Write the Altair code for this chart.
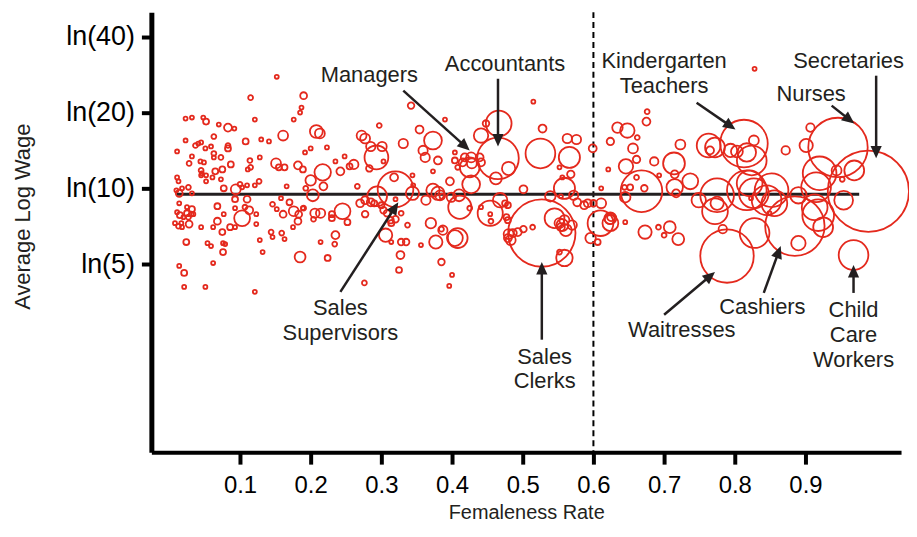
import math
import altair as alt
import pandas as pd

# ---------------- data: occupations (femaleness rate, average log wage, employment in thousands)
fem_a = [0.152,0.190,0.115,0.187,0.185,0.023,0.032,0.048,0.052,0.121,
         0.176,0.070,0.083,0.092,0.161,0.023,0.063,0.108,0.130,0.141,
         0.037,0.041,0.045,0.051,0.059,0.083,0.083,0.011,0.063,0.063,
         0.032,0.073,0.128,0.192,0.114,0.044,0.049,0.028,0.087,0.151,
         0.155,0.163,0.182,0.189,0.045,0.046,0.045,0.052,0.065,0.075,
         0.061,0.111,0.115,0.011,0.013,0.052,0.073,0.127,0.121,0.110,
         0.100,0.103,0.077,0.094,0.027,0.018,0.010,0.014,0.032,0.166,
         0.193,0.093,0.110,0.158,0.014,0.068,0.093,0.107,0.113,0.146,
         0.152,0.170,0.176,0.189,0.161,0.025,0.032,0.025,0.031,0.034,
         0.011,0.015,0.020,0.027,0.077,0.123,0.103,0.183,0.182,0.068,
         0.008,0.013,0.017,0.018,0.028,0.045,0.062,0.086,0.093,0.123,
         0.175,0.075,0.144,0.146,0.159,0.163,0.024,0.054,0.059,0.076,
         0.079,0.128,0.076,0.132,0.185,0.062,0.014,0.021,0.021,0.051,
         0.121]
wage_a = [3.324,3.151,3.133,3.042,2.996,2.941,2.951,2.951,2.914,2.932,
          2.932,2.887,2.859,2.850,2.786,2.741,2.777,2.732,2.750,2.732,
          2.695,2.713,2.723,2.668,2.686,2.695,2.668,2.640,2.622,2.586,
          2.595,2.586,2.586,2.631,2.558,2.549,2.540,2.531,2.522,2.531,
          2.495,2.495,2.513,2.476,2.467,2.440,2.422,2.422,2.458,2.476,
          2.403,2.476,2.495,2.403,2.367,2.367,2.385,2.367,2.330,2.330,
          2.339,2.312,2.303,2.294,2.312,2.303,2.285,2.257,2.257,2.321,
          2.303,2.203,2.203,2.212,2.166,2.139,2.121,2.130,2.102,2.157,
          2.112,2.175,2.093,2.121,2.066,2.130,2.112,2.075,2.066,2.066,
          2.084,2.057,2.039,2.039,2.066,2.066,2.029,2.066,2.002,2.002,
          1.984,1.956,1.984,1.947,1.975,1.947,1.947,1.947,1.947,1.975,
          1.947,1.902,1.902,1.856,1.893,1.838,1.811,1.801,1.774,1.801,
          1.792,1.829,1.719,1.719,1.674,1.619,1.592,1.528,1.400,1.400,
          1.355]
emp_a = [4,12,6,4,4,4,4,4,9,4,
         4,4,16,4,25,4,6,9,4,4,
         6,4,4,4,4,6,9,4,6,4,
         4,6,4,4,6,4,4,6,9,25,
         9,9,16,9,6,4,4,4,9,9,
         4,4,6,4,4,4,4,6,4,4,
         6,4,9,25,6,4,4,12,4,4,
         6,9,12,4,4,9,4,6,16,6,
         4,9,25,4,12,4,9,9,6,4,
         4,9,4,6,4,4,64,12,12,12,
         4,6,4,4,12,4,4,9,4,4,
         4,9,6,4,6,4,9,4,4,4,
         4,4,9,4,30,4,4,9,4,4,
         4]

fem_b = [0.342,0.390,0.208,0.213,0.272,0.277,0.297,0.354,0.373,0.331,
         0.285,0.301,0.293,0.200,0.223,0.235,0.248,0.255,0.261,0.242,
         0.283,0.303,0.359,0.362,0.380,0.373,0.404,0.408,0.217,0.200,
         0.218,0.266,0.318,0.344,0.320,0.294,0.344,0.345,0.373,0.380,
         0.383,0.363,0.399,0.203,0.190,0.206,0.214,0.245,0.270,0.277,
         0.285,0.290,0.300,0.277,0.303,0.308,0.313,0.320,0.314,0.320,
         0.328,0.230,0.230,0.204,0.252,0.337,0.370,0.387,0.377,0.404,
         0.306,0.235,0.234,0.214,0.328,0.335,0.356,0.224,0.327,0.385,
         0.325,0.400,0.276,0.396,0.314]
wage_b = [3.060,2.932,2.823,2.805,2.786,2.759,2.878,2.841,2.741,2.713,
          2.686,2.686,2.586,2.668,2.677,2.549,2.595,2.504,2.522,2.458,
          2.485,2.549,2.650,2.586,2.558,2.458,2.558,2.495,2.449,2.376,
          2.321,2.321,2.403,2.422,2.294,2.230,2.257,2.330,2.285,2.257,
          2.239,2.194,2.221,2.239,2.121,2.075,2.075,2.093,2.166,2.194,
          2.175,2.166,2.148,2.066,2.102,2.075,2.011,2.020,1.984,2.203,
          2.075,2.066,2.029,2.020,1.993,1.966,1.984,1.920,1.811,1.847,
          1.874,1.874,1.792,1.811,1.811,1.811,1.783,1.665,1.692,1.628,
          1.555,1.510,1.437,1.409,1.811]
emp_b = [11,4,42,25,25,25,6,16,81,22,
         22,22,144,4,4,4,4,9,22,16,
         11,4,22,22,16,4,9,6,69,28,
         16,6,16,4,324,100,45,4,45,45,
         25,22,22,36,6,22,22,64,16,16,
         16,9,9,11,11,11,11,11,9,4,
         6,9,9,6,9,6,28,22,45,64,
         45,16,6,4,11,11,4,9,16,11,
         9,4,6,4,4]

fem_c = [0.515,0.466,0.448,0.441,0.528,0.563,0.576,0.599,0.525,0.566,
         0.465,0.427,0.418,0.415,0.428,0.439,0.441,0.404,0.425,0.480,
         0.462,0.427,0.552,0.568,0.556,0.559,0.397,0.501,0.410,0.411,
         0.386,0.468,0.475,0.479,0.539,0.554,0.572,0.577,0.587,0.592,
         0.600,0.454,0.454,0.455,0.441,0.425,0.477,0.479,0.527,0.545,
         0.552,0.556,0.559,0.554,0.570,0.561,0.480,0.486,0.493,0.501,
         0.483,0.479,0.514,0.408,0.385,0.596,0.559,0.552]
wage_c = [3.096,2.896,2.896,2.786,2.850,2.759,2.750,2.668,2.622,2.586,
          2.577,2.586,2.586,2.540,2.531,2.586,2.540,2.631,2.495,2.485,
          2.394,2.339,2.495,2.431,2.403,2.303,2.367,2.294,2.239,2.130,
          2.230,2.194,2.166,2.148,2.230,2.230,2.239,2.175,2.148,2.166,
          2.166,2.075,2.066,2.002,2.130,2.121,2.039,2.011,1.893,2.029,
          1.984,1.966,2.011,1.947,1.966,1.920,1.884,1.893,1.902,1.929,
          1.829,1.847,1.947,1.847,1.929,1.847,1.665,1.719]
emp_c = [4,169,11,53,16,22,22,16,225,114,
         441,25,16,16,25,16,16,4,100,45,
         36,81,4,14,4,114,16,16,36,137,
         7,53,9,9,28,4,22,16,16,16,
         11,161,4,6,4,6,9,9,1156,100,
         25,36,25,16,22,36,25,16,16,11,
         25,16,6,100,6,28,69,6]

fem_d = [0.676,0.675,0.634,0.648,0.662,0.624,0.656,0.723,0.661,0.646,
         0.621,0.686,0.714,0.661,0.652,0.668,0.672,0.644,0.645,0.611,
         0.611,0.693,0.715,0.715,0.717,0.737,0.749,0.610,0.624,0.624,
         0.623,0.625,0.606,0.645,0.673,0.692,0.700,0.708,0.720,0.789]
wage_d = [3.005,2.914,2.859,2.832,2.768,2.732,2.668,2.704,2.567,2.504,
          2.476,2.549,2.531,2.403,2.312,2.276,2.303,2.312,2.221,2.303,
          2.166,2.422,2.431,2.312,2.257,2.367,2.194,1.984,2.029,1.984,
          2.020,2.039,1.811,1.993,1.902,1.947,1.874,1.947,1.838,1.683]
emp_d = [6,16,28,53,6,14,25,25,14,53,
         4,18,121,6,9,441,11,6,28,4,
         25,4,16,69,16,64,53,169,36,64,
         25,16,9,4,45,6,6,36,36,729]

fem_e = [0.813,0.763,0.772,0.765,0.803,0.827,0.817,0.824,0.872,0.907,
         0.901,0.946,0.920,0.944,0.952,0.775,0.775,0.772,0.783,0.817,
         0.827,0.821,0.852,0.856,0.823,0.845,0.828,0.885,0.890,0.915,
         0.918,0.925,0.890,0.913,0.828,0.794,0.969,0.954,0.849,0.968,
         0.989]
wage_e = [2.713,2.695,2.677,2.650,2.640,2.741,2.631,2.558,2.650,2.859,
          2.695,2.677,2.440,2.467,2.385,2.239,2.166,2.093,1.929,2.285,
          2.257,2.349,2.285,2.166,2.212,2.194,1.893,1.957,2.239,2.312,
          2.057,1.947,1.801,2.130,3.397,2.650,2.467,2.194,2.075,1.692,
          2.276]
emp_e = [576,144,100,16,36,25,87,225,18,18,
         45,900,289,25,6,289,45,169,18,400,
         225,169,289,169,4,225,225,900,69,225,
         256,100,53,169,4,45,100,90,4,225,
         1681]

# overall mean log wage line and the 0.6 split
mean_fem_range = [0.010, 0.976]
mean_wage = [2.248]
split_at = [0.6]

# axes
x_ticks = [0.1, 0.2, 0.3, 0.4, 0.5, 0.6, 0.7, 0.8, 0.9]
y_tick_wages = [5, 10, 20, 40]

# annotations (y = position of the first text line)
ann_label = ["Managers", "Accountants", "Kindergarten\nTeachers", "Nurses", "Secretaries",
             "Sales\nSupervisors", "Sales\nClerks", "Waitresses", "Cashiers", "Child\nCare\nWorkers"]
ann_x = [0.283, 0.475, 0.700, 0.908, 0.961, 0.242, 0.531, 0.725, 0.839, 0.968]
ann_y = [3.343, 3.443, 3.470, 3.169, 3.470, 1.209, 0.762, 1.008, 1.218, 1.190]
arr_x0 = [0.331, 0.465, 0.746, 0.937, 1.000, 0.242, 0.527, 0.700, 0.841, 0.968]
arr_y0 = [3.197, 3.306, 3.087, 3.060, 3.334, 1.355, 0.917, 1.145, 1.345, 1.345]
arr_x1 = [0.425, 0.465, 0.801, 0.969, 1.000, 0.324, 0.527, 0.772, 0.865, 0.968]
arr_y1 = [2.650, 2.686, 2.841, 2.896, 2.577, 2.175, 1.628, 1.537, 1.774, 1.601]

# ---------------- chart
W, H = 753, 442
X_DOM = [-0.0254, 1.0352]
Y_DOM = [-0.113, 3.916]
RED = "#e4291d"
INK = "#000000"
TXT = "#231f20"
SANS = "Liberation Sans, Arial, Helvetica, sans-serif"

occ = pd.DataFrame({
    "fem": fem_a + fem_b + fem_c + fem_d + fem_e,
    "lw": wage_a + wage_b + wage_c + wage_d + wage_e,
    "emp": emp_a + emp_b + emp_c + emp_d + emp_e,
})

XAXIS = alt.Axis(values=x_ticks, format=".1f", title="Femaleness Rate", grid=False,
                 domainColor=INK, domainWidth=4, tickColor=INK, tickWidth=4, tickSize=12,
                 labelFont=SANS, labelFontSize=24, labelColor=INK, labelPadding=10,
                 labelFlush=False, titleFont=SANS, titleFontSize=20, titleFontWeight="normal",
                 titleColor=TXT, titlePadding=5)
YAXIS = alt.Axis(values=[math.log(w) for w in y_tick_wages],
                 labelExpr="'ln(' + format(exp(datum.value), '.0f') + ')'",
                 title="Average Log Wage", grid=False,
                 domainColor=INK, domainWidth=5, tickColor=INK, tickWidth=4, tickSize=10,
                 labelFont=SANS, labelFontSize=27, labelColor=INK, labelPadding=7,
                 titleFont=SANS, titleFontSize=22, titleFontWeight="normal", titleColor=TXT,
                 titleAngle=270, titleX=-129, titleY=205, titleAlign="center",
                 titleBaseline="middle")


def xe(field):
    return alt.X(f"{field}:Q", scale=alt.Scale(domain=X_DOM, nice=False, zero=False), axis=XAXIS)


def ye(field):
    return alt.Y(f"{field}:Q", scale=alt.Scale(domain=Y_DOM, nice=False, zero=False), axis=YAXIS)


dash = alt.Chart(pd.DataFrame({"x": split_at})).mark_rule(
    color=INK, strokeWidth=2, strokeDash=[6, 4]).encode(x=xe("x"))

mean = alt.Chart(pd.DataFrame({"x": [mean_fem_range[0]], "x2": [mean_fem_range[1]], "y": mean_wage})
                 ).mark_rule(color=TXT, strokeWidth=3).encode(x=xe("x"), x2="x2", y=ye("y"))

circles = alt.Chart(occ).mark_point(shape="circle", filled=False, color=RED, strokeWidth=1.8,
                                    opacity=1).encode(
    x=xe("fem"), y=ye("lw"),
    size=alt.Size("emp:Q", scale=alt.Scale(type="linear", domain=[0, 1700], range=[0, 6724]),
                  legend=None))

# arrow geometry (direction in screen space)
PXX = W / (X_DOM[1] - X_DOM[0])
PXY = H / (Y_DOM[1] - Y_DOM[0])
rows = []
for x0, y0, x1, y1 in zip(arr_x0, arr_y0, arr_x1, arr_y1):
    dx = (x1 - x0) * PXX
    dy = -(y1 - y0) * PXY
    L = math.hypot(dx, dy)
    ang = math.degrees(math.atan2(dx, -dy)) % 360
    xe_ = x1 - (dx / L * 6) / PXX
    ye_ = y1 + (dy / L * 6) / PXY
    rows.append({"x0": x0, "y0": y0, "xe": xe_, "ye": ye_, "x1": x1, "y1": y1, "ang": ang})
arr = pd.DataFrame(rows)

arrows = alt.Chart(arr).mark_rule(color=TXT, strokeWidth=2.5).encode(
    x=xe("x0"), y=ye("y0"), x2="xe", y2="ye")
heads = alt.Chart(arr).mark_point(shape="M0,0L-0.45,1L0.45,1Z", filled=True, color=TXT,
                                  size=625, opacity=1, strokeWidth=0).encode(
    x=xe("x1"), y=ye("y1"), angle=alt.Angle("ang:Q", scale=None))

texts = alt.Chart(pd.DataFrame({"label": ann_label, "x": ann_x, "y": ann_y})).mark_text(
    font=SANS, fontSize=22, color=TXT, lineBreak="\n", lineHeight=25,
    align="center", baseline="middle").encode(x=xe("x"), y=ye("y"), text="label:N")

chart = alt.layer(dash, mean, circles, arrows, heads, texts).properties(
    width=W, height=H,
    autosize=alt.AutoSizeParams(type="none"),
    padding={"left": 144, "top": 3, "right": 8, "bottom": 72},
).configure_view(strokeWidth=0)

chart.save("out.html", embed_options={"renderer": "svg", "actions": False})
